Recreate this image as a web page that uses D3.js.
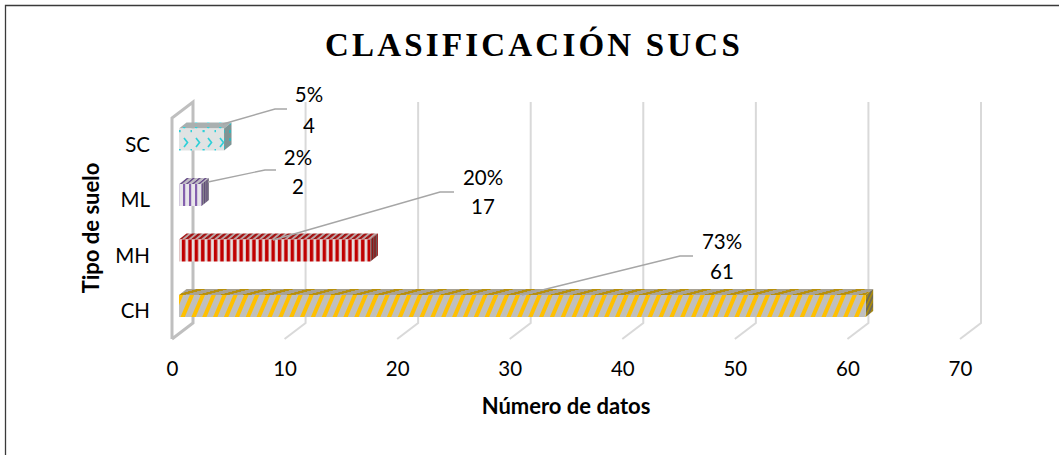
<!DOCTYPE html>
<html><head><meta charset="utf-8">
<script src="https://cdnjs.cloudflare.com/ajax/libs/d3/7.8.5/d3.min.js"></script>
<style>html,body{margin:0;padding:0;background:#fff;overflow:hidden}svg{display:block}
text{font-family:Lato,"Open Sans",sans-serif;fill:#000}</style></head><body>
<div id="chart"></div>
<script>
const categories = ["CH","MH","ML","SC"];
const values = [61,17,2,4];
const percents = ["73%","20%","2%","5%"];
const xTicks = [0,10,20,30,40,50,60,70];
const title = "CLASIFICACIÓN SUCS";
const xTitle = "Número de datos";
const yTitle = "Tipo de suelo";

const W=1059,H=455;
const svg=d3.select("#chart").append("svg").attr("width",W).attr("height",H);
const defs=svg.append("defs");
const x=d3.scaleLinear().domain([0,70]).range([172,960]);
const y=d3.scaleBand().domain(categories).range([333.65,111.85]).paddingInner(0.604).paddingOuter(0.3);
const wall={dx:21,dy:-16,top:118,bottom:339};
const barInset=7;

function pat(id,w,h,bg,draw,rot){
  const p=defs.append("pattern").attr("id",id).attr("patternUnits","userSpaceOnUse").attr("width",w).attr("height",h);
  if(rot)p.attr("patternTransform",rot);
  p.append("rect").attr("width",w).attr("height",h).attr("fill",bg);
  draw(p);
}
const stripe=(p,x0,w,h,c)=>p.append("rect").attr("x",x0).attr("width",w).attr("height",h).attr("fill",c);
pat("pCH",10,16,"#bfbfbf",p=>stripe(p,0,4,16,"#ffc000"),"rotate(23)");
pat("pCHt",22,11,"#a8a294",p=>stripe(p,0,9,11,"#b8900c"),"skewX(-75)");
pat("pCHs",4,8,"#6f6a55",p=>stripe(p,0,2,8,"#a88a10"),"skewX(-25)");
pat("pMH",6.4,10,"#e6e0e0",p=>stripe(p,2.6,3.5,10,"#c00000"));
pat("pMHt",6.4,10,"#b9a8a8",p=>stripe(p,2.6,3.5,10,"#a51414"),"skewX(-50)");
pat("pMHs",2.6,10,"#6a5a5a",p=>stripe(p,0,1.3,10,"#960a0a"));
pat("pML",6,10,"#e8e6ea",p=>stripe(p,3,2.2,10,"#8460ae"));
pat("pMLt",6,10,"#c0bcc4",p=>stripe(p,3,2.2,10,"#6a4f8c"),"skewX(-50)");
pat("pMLs",2.4,10,"#8a8690",p=>stripe(p,0,1.2,10,"#5f4a78"));
pat("pSC",24,19,"#e0e3e3",p=>{
  [6,18].forEach(cx=>p.append("path").attr("d",`M${cx-2} 5L${cx+1.5} 9.5L${cx-2} 14`).attr("fill","none").attr("stroke","#2fd0d8").attr("stroke-width",1.7));
  p.append("rect").attr("x",10.5).attr("y",16).attr("width",2.2).attr("height",2.2).attr("fill","#2fd0d8");
  p.append("rect").attr("x",22.5).attr("y",16).attr("width",2.2).attr("height",2.2).attr("fill","#2fd0d8");
});
pat("pSCt",12,6,"#a9b0b0",p=>p.append("rect").attr("x",3).attr("y",1).attr("width",2.4).attr("height",2).attr("fill","#2fd0d8"));
pat("pSCs",6,8,"#7f9494",p=>p.append("rect").attr("x",1).attr("y",2).attr("width",2).attr("height",3).attr("fill","#35b4ba"));

svg.append("path").attr("d","M5.5 455V5.5H1059").attr("fill","none").attr("stroke","#3a3a3a").attr("stroke-width",1.3);

svg.append("text").attr("x",534).attr("y",56).attr("text-anchor","middle")
  .style("font-family","'Liberation Serif',serif").style("font-weight",700).style("font-size","33px").style("letter-spacing","3.2px").text(title);

// gridlines
const grid=svg.append("g").attr("fill","none");
xTicks.forEach(t=>{
  const f=x(t),b=f+wall.dx;
  grid.append("path").attr("d",t===0
      ?`M${f} ${wall.bottom}V${wall.top}L${b} ${wall.top+wall.dy}V${wall.bottom+wall.dy}L${f} ${wall.bottom}`
      :`M${f} ${wall.bottom}L${b} ${wall.bottom+wall.dy}V${wall.top+wall.dy}`)
    .attr("stroke",t===0?"#bfbfbf":"#d9d9d9").attr("stroke-width",t===0?3:2);
});

// bars
const d=categories.map((c,i)=>({c,v:values[i],p:percents[i]}));
const depth={dx:7.5,dy:-6};
const bars=svg.append("g").selectAll("g").data(d).join("g");
bars.append("path").attr("d",e=>{const a=x(0)+barInset,b=x(e.v)+barInset,t=y(e.c);
  return `M${a} ${t}L${a+depth.dx} ${t+depth.dy}H${b+depth.dx}L${b} ${t}Z`;}).attr("fill",e=>`url(#p${e.c}t)`);
bars.append("path").attr("d",e=>{const b=x(e.v)+barInset,t=y(e.c),h=y.bandwidth();
  return `M${b} ${t}L${b+depth.dx} ${t+depth.dy}V${t+h+depth.dy}L${b} ${t+h}Z`;}).attr("fill",e=>`url(#p${e.c}s)`);
bars.append("rect").attr("x",x(0)+barInset).attr("y",e=>y(e.c)).attr("width",e=>x(e.v)-x(0)).attr("height",y.bandwidth()).attr("fill",e=>`url(#p${e.c})`);

// leader lines and labels
const leader={CH:[[522,295],[680,256],[693,256]],MH:[[273,240],[440,192],[454,192]],ML:[[208,182],[265,170],[276,170]],SC:[[223,124],[275,109],[287,109]]};
const labelAt={CH:[722,249,279],MH:[483,185,214],ML:[298,165,194],SC:[309,102,133]};
d.forEach(e=>{
  svg.append("path").attr("d",d3.line()(leader[e.c])).attr("fill","none").attr("stroke","#a6a6a6").attr("stroke-width",1.4);
  const l=labelAt[e.c];
  const g=svg.append("g").style("font-size","20.5px").attr("text-anchor","middle");
  g.append("text").attr("x",l[0]).attr("y",l[1]).text(e.p);
  g.append("text").attr("x",l[0]).attr("y",l[2]).text(e.v);
});

// axis labels
svg.append("g").attr("transform","translate(0,376)").call(d3.axisBottom(x).tickValues(xTicks).tickSize(0).tickPadding(0))
  .call(g=>g.select(".domain").remove()).call(g=>g.selectAll("text").style("font-size","20.5px").style("font-family","Lato").attr("dy","0"));
svg.append("g").attr("transform","translate(150,5.5)").call(d3.axisLeft(y).tickSize(0).tickPadding(0))
  .call(g=>g.select(".domain").remove()).call(g=>g.selectAll("text").style("font-size","20.5px").style("font-family","Lato"));
svg.append("text").attr("x",566).attr("y",414).attr("text-anchor","middle").style("font-weight",700).style("font-size","22px").text(xTitle);
svg.append("text").attr("transform","translate(99,228) rotate(-90)").attr("text-anchor","middle").style("font-weight",700).style("font-size","22px").text(yTitle);
</script></body></html>
